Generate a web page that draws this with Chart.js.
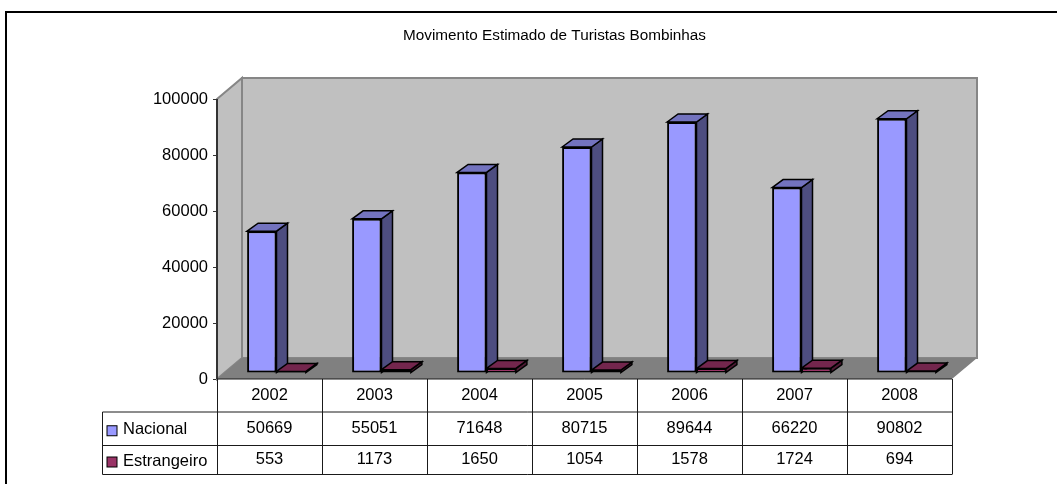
<!DOCTYPE html>
<html>
<head>
<meta charset="utf-8">
<title>Movimento Estimado de Turistas Bombinhas</title>
<script src="https://cdn.jsdelivr.net/npm/chart.js@4"></script>
<style>
    html, body { margin: 0; padding: 0; background: #ffffff; }
    #wrap { position: absolute; left: 0; top: 0; width: 1057px; height: 484px; }
</style>
</head>
<body>
<div id="wrap"><canvas id="chart" width="1057" height="484"></canvas></div>
<script>
// Chart data
const anos = ['2002', '2003', '2004', '2005', '2006', '2007', '2008'];
const nacional = [50669, 55051, 71648, 80715, 89644, 66220, 90802];
const estrangeiro = [553, 1173, 1650, 1054, 1578, 1724, 694];
const yTicks = [0, 20000, 40000, 60000, 80000, 100000];
const titulo = 'Movimento Estimado de Turistas Bombinhas';

// 3D look, all in pixels
const WALL_DX = 25, WALL_DY = -21;   // depth of the chart box
const BAR_DX = 7, BAR_DY = -6;       // bars sit inside the box
const FACE_DX = 11, FACE_DY = -8;    // depth of a single bar
const FAMILY = '"Liberation Sans", Arial, sans-serif';

function poly(ctx, pts, fill, stroke, lw) {
    ctx.beginPath();
    pts.forEach((p, i) => i ? ctx.lineTo(p[0], p[1]) : ctx.moveTo(p[0], p[1]));
    ctx.closePath();
    ctx.fillStyle = fill;
    ctx.fill();
    if (stroke) {
        ctx.strokeStyle = stroke;
        ctx.lineWidth = lw || 1;
        ctx.stroke();
    }
}

// Walls, floor and the depth faces of the bars
const box3d = {
    id: 'box3d',
    beforeDatasetsDraw(chart) {
        const { ctx, chartArea: a } = chart;
        const l = a.left, r = a.right, t = a.top, b = a.bottom;
        const dx = WALL_DX, dy = WALL_DY;
        ctx.save();
        poly(ctx, [[l + dx, t + dy], [r + dx, t + dy], [r + dx, b + dy], [l + dx, b + dy]], '#c0c0c0', '#868686', 2);
        poly(ctx, [[l, t], [l + dx, t + dy], [l + dx, b + dy], [l, b]], '#c0c0c0', '#868686', 2);
        poly(ctx, [[l, b], [l + dx, b + dy], [r + dx, b + dy], [r, b]], '#808080');
        // axis line on top of the left wall
        ctx.strokeStyle = '#333333';
        ctx.lineWidth = 2;
        ctx.beginPath();
        ctx.moveTo(l, t);
        ctx.lineTo(l, b);
        ctx.stroke();

        // side and top faces, back to front
        const faces = [['#4d4d80', '#7373bf'], ['#4d1a33', '#73264d']];
        anos.forEach((_, i) => {
            [0, 1].forEach(ds => {
                const bar = chart.getDatasetMeta(ds).data[i];
                const x0 = bar.x - bar.width / 2 + BAR_DX, x1 = bar.x + bar.width / 2 + BAR_DX;
                const y0 = bar.y + BAR_DY, y1 = bar.base + BAR_DY;
                poly(ctx, [[x1, y0], [x1 + FACE_DX, y0 + FACE_DY], [x1 + FACE_DX, y1 + FACE_DY], [x1, y1]], faces[ds][0], '#000000', 1.5);
                poly(ctx, [[x0, y0], [x0 + FACE_DX, y0 + FACE_DY], [x1 + FACE_DX, y0 + FACE_DY], [x1, y0]], faces[ds][1], '#000000', 1.5);
            });
        });
        ctx.restore();
        // front faces are moved into the box too
        ctx.save();
        ctx.translate(BAR_DX, BAR_DY);
    },
    afterDatasetsDraw(chart) {
        chart.ctx.restore();
    }
};

// Frame, title and data table under the plot
const tabela = {
    id: 'tabela',
    afterDraw(chart) {
        const { ctx, chartArea: a } = chart;
        const xs = chart.scales.x;
        const rows = [412, 445.5, 474.5];
        const left = 102.5;
        const cell = (a.right - a.left) / anos.length;
        ctx.save();

        // outer frame
        ctx.strokeStyle = '#000000';
        ctx.lineWidth = 2;
        ctx.beginPath();
        ctx.moveTo(6, 484);
        ctx.lineTo(6, 12);
        ctx.lineTo(1057, 12);
        ctx.stroke();

        ctx.font = '15.3px ' + FAMILY;
        ctx.fillStyle = '#000000';
        ctx.textAlign = 'center';
        ctx.textBaseline = 'middle';
        ctx.fillText(titulo, 554.5, 36);

        // grid
        ctx.strokeStyle = '#1a1a1a';
        ctx.lineWidth = 1;
        ctx.beginPath();
        for (let i = 0; i <= anos.length; i++) {
            const x = Math.round(a.left + i * cell) + 0.5;
            ctx.moveTo(x, a.bottom);
            ctx.lineTo(x, rows[2]);
        }
        ctx.moveTo(left, rows[0]);
        ctx.lineTo(left, rows[2]);
        rows.forEach(y => {
            ctx.moveTo(left, y);
            ctx.lineTo(a.right, y);
        });
        ctx.moveTo(a.left, a.bottom);
        ctx.lineTo(a.right, a.bottom);
        ctx.stroke();

        // series names with their colour keys
        ctx.font = '16.5px ' + FAMILY;
        [['Nacional', '#9999ff', rows[0], rows[1]], ['Estrangeiro', '#993366', rows[1], rows[2]]].forEach(s => {
            const mid = (s[2] + s[3]) / 2;
            ctx.fillStyle = s[1];
            ctx.strokeStyle = '#000000';
            ctx.fillRect(107, mid - 3, 10, 10);
            ctx.strokeRect(107, mid - 3, 10, 10);
            ctx.fillStyle = '#000000';
            ctx.textAlign = 'left';
            ctx.fillText(s[0], 123, mid + 1);
        });

        // table values
        ctx.textAlign = 'center';
        [nacional, estrangeiro].forEach((serie, k) => {
            serie.forEach((v, i) => {
                ctx.fillText(String(v), xs.getPixelForTick(i), (rows[k] + rows[k + 1]) / 2 - 0.5);
            });
        });
        ctx.restore();
    }
};

new Chart(document.getElementById('chart'), {
    type: 'bar',
    data: {
        labels: anos,
        datasets: [
            { label: 'Nacional', data: nacional, backgroundColor: '#9999ff', borderColor: '#000000', borderWidth: 2, borderSkipped: false },
            { label: 'Estrangeiro', data: estrangeiro, backgroundColor: '#993366', borderColor: '#000000', borderWidth: 1.5, borderSkipped: false }
        ]
    },
    options: {
        responsive: false,
        animation: false,
        layout: { padding: { left: 0, top: 99, right: 105, bottom: 72 } },
        categoryPercentage: 0.56,
        barPercentage: 1,
        plugins: {
            legend: { display: false },
            tooltip: { enabled: false },
            title: { display: false }
        },
        scales: {
            x: {
                grid: { display: false, drawTicks: false },
                border: { display: false },
                afterFit(scale) {
                    scale.height = 33;
                },
                ticks: { color: '#000000', font: { family: FAMILY, size: 16.5 }, padding: 7, maxRotation: 0 }
            },
            y: {
                min: 0,
                max: 100000,
                afterBuildTicks(scale) {
                    scale.ticks = yTicks.map(v => ({ value: v }));
                },
                afterFit(scale) {
                    scale.width = 217;
                },
                position: 'left',
                grid: { drawOnChartArea: false, tickLength: 4, tickColor: '#333333', tickWidth: 1 },
                border: { display: false },
                ticks: {
                    color: '#000000',
                    font: { family: FAMILY, size: 16.5 },
                    padding: 5,
                    callback: value => String(value)
                }
            }
        }
    },
    plugins: [box3d, tabela]
});
</script>
</body>
</html>
